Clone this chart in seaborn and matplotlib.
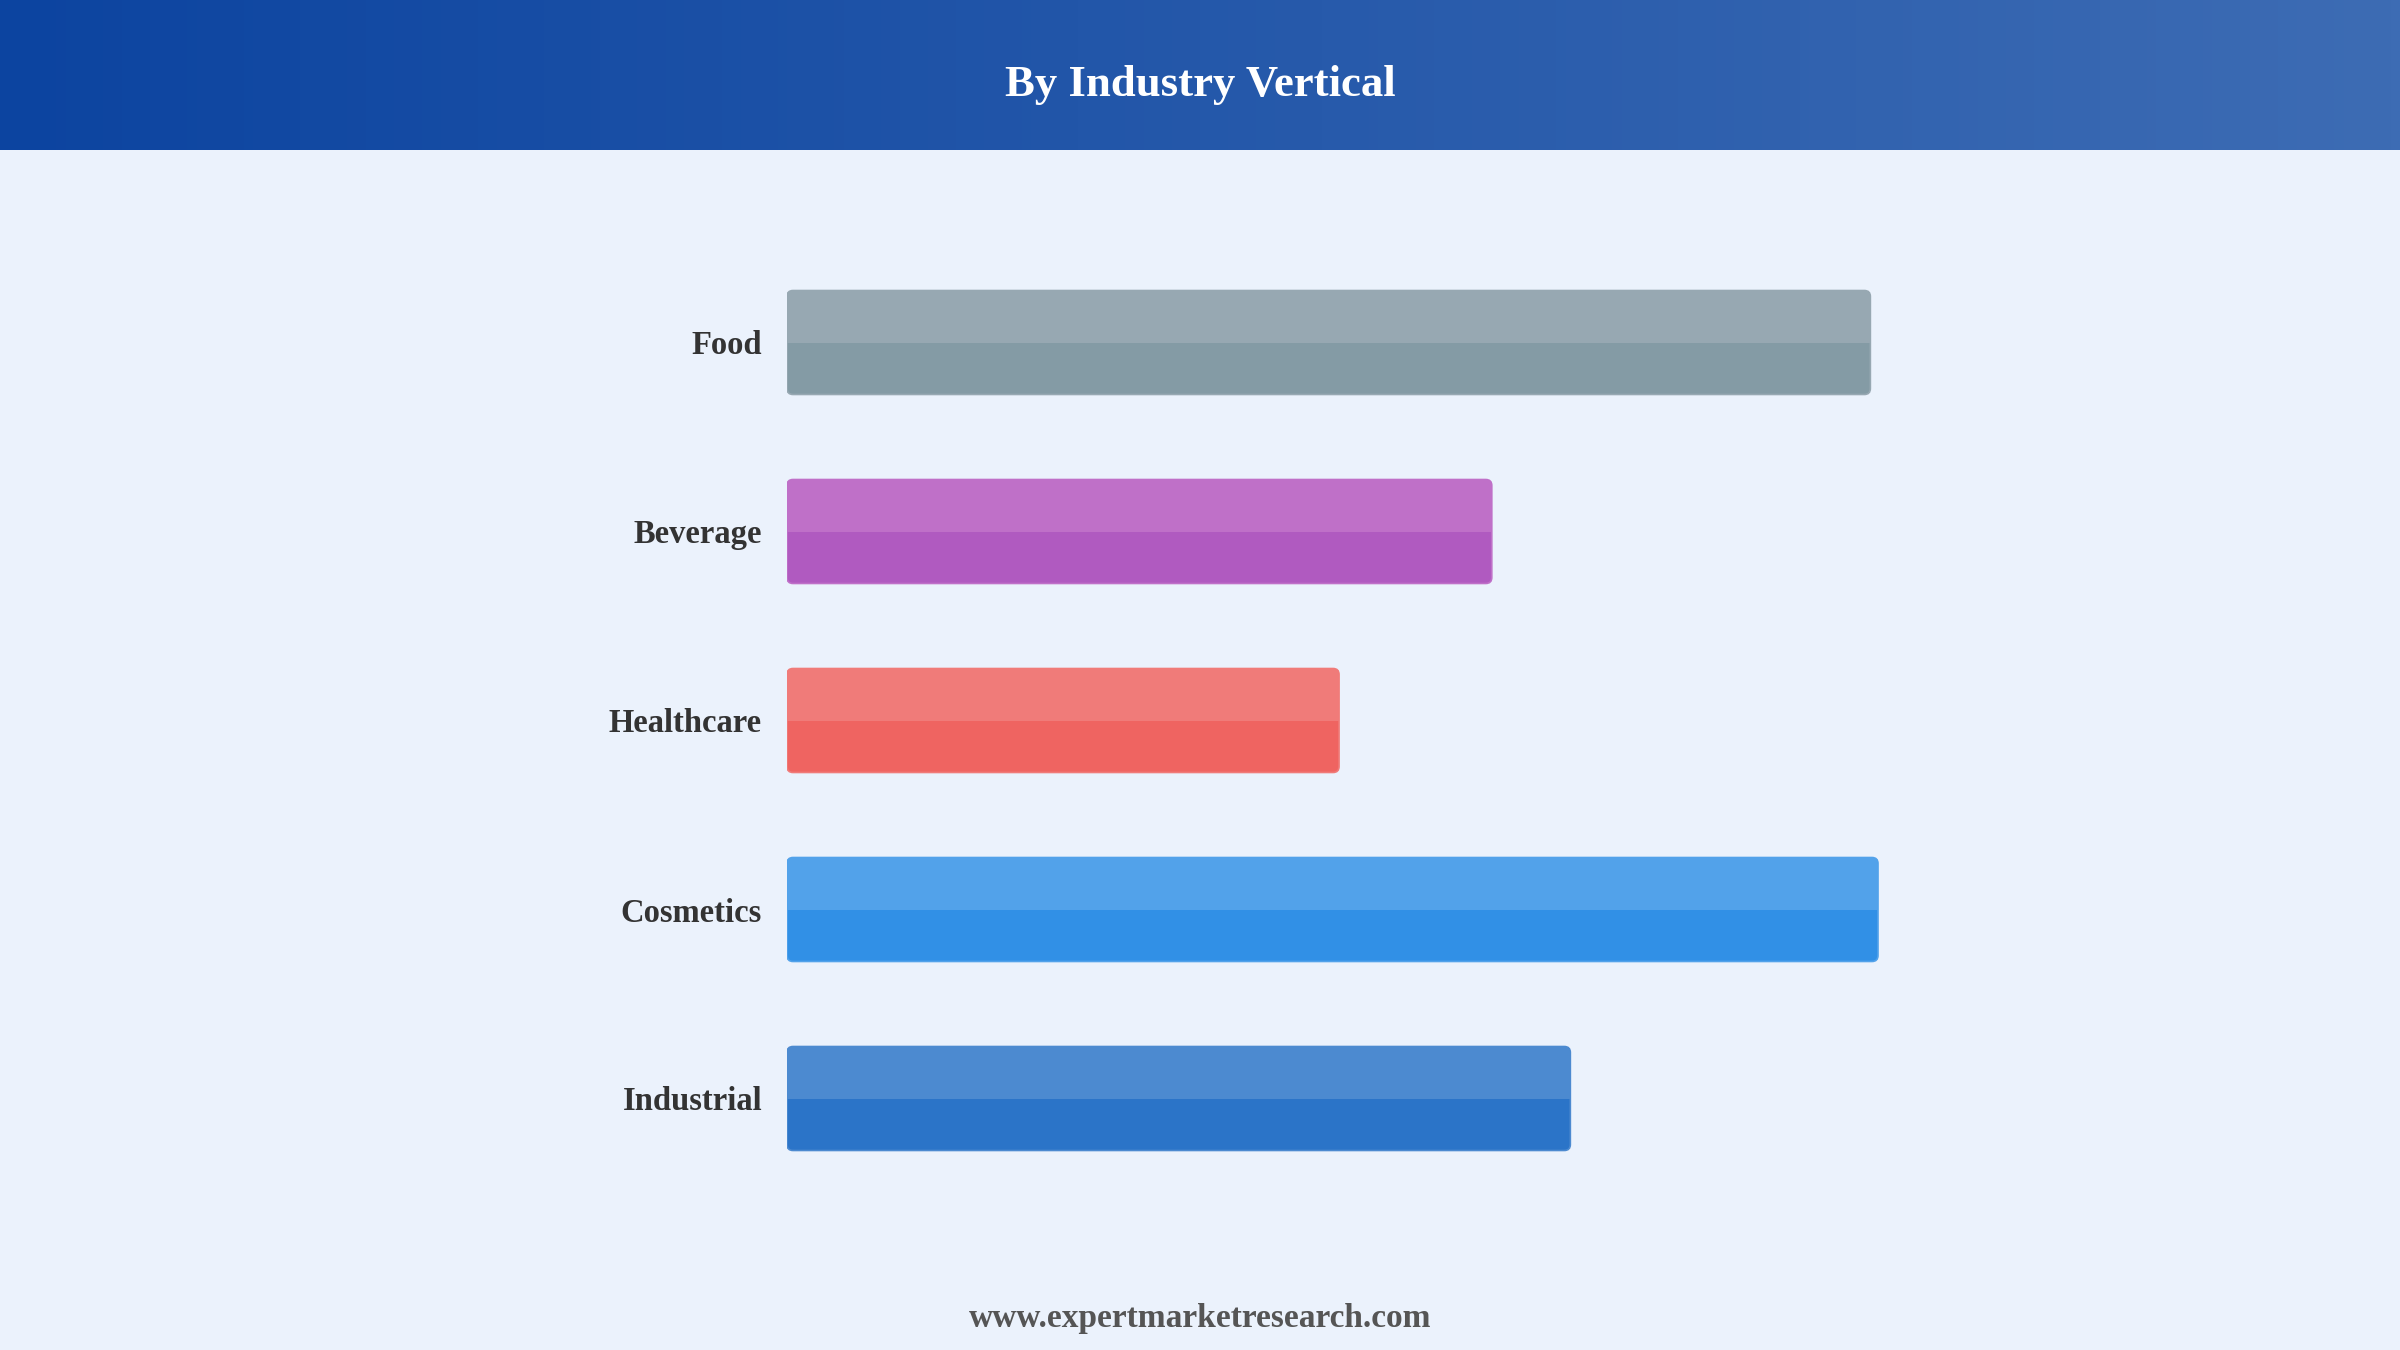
import numpy as np
import pandas as pd
import matplotlib
matplotlib.use('Agg')
import matplotlib.pyplot as plt
from matplotlib.patches import FancyBboxPatch, Rectangle
import seaborn as sns

# data
categories = ['Food', 'Beverage', 'Healthcare', 'Cosmetics', 'Industrial']
values = [99.3, 64.6, 50.6, 100.0, 71.8]
dark_colors = ['#849ba5', '#b05ac0', '#ef6461', '#3190e6', '#2b74c8']
light_colors = ['#97a8b2', '#bf70c8', '#f07b79', '#52a2ea', '#4c8ad0']

df = pd.DataFrame({'category': categories, 'value': values})

bg = '#ebf2fc'
sns.set_theme(style='white')
plt.rcParams['font.family'] = ['Liberation Serif', 'DejaVu Serif']

W, H = 2400, 1350
fig = plt.figure(figsize=(24, 13.5), dpi=100, facecolor=bg)

# header band with gradient
hdr_h = 150
hax = fig.add_axes([0, 1 - hdr_h / H, 1, hdr_h / H])
c0 = np.array(matplotlib.colors.to_rgb('#0c44a0'))
c1 = np.array(matplotlib.colors.to_rgb('#3d6cb4'))
t = np.linspace(0, 1, 256)
grad = (c0[None, :] * (1 - t[:, None]) + c1[None, :] * t[:, None])[None, :, :]
hax.imshow(grad, aspect='auto', extent=[0, 1, 0, 1])
hax.set_axis_off()
fig.text(0.5, 1 - 85 / H, 'By Industry Vertical', ha='center', va='center',
         color='white', fontsize=32.2, fontweight='bold')

# main bars
ax_left, ax_w = 787, 1300
ax_top, ax_bot = 248, 1193
ax = fig.add_axes([ax_left / W, 1 - ax_bot / H, ax_w / W, (ax_bot - ax_top) / H])
ax.set_facecolor(bg)
xmax = 100 * ax_w / 1091
bar_w = 0.55

sns.barplot(data=df, x='value', y='category', hue='category', palette=dark_colors,
            legend=False, width=bar_w, ax=ax)
ax.set_xlim(0, xmax)
ax.set_ylim(4.5, -0.5)

xpp = xmax / ax_w
ypp = 5 / (ax_bot - ax_top)
radius = 6 * xpp

for i, p in enumerate(list(ax.patches)):
    x0, y0 = p.get_x(), p.get_y()
    pw, ph = p.get_width(), p.get_height()
    p.remove()
    rb = FancyBboxPatch((x0, y0), pw, ph,
                        boxstyle=f'round,pad=0,rounding_size={radius}',
                        mutation_aspect=ypp / xpp,
                        facecolor=dark_colors[i], edgecolor=light_colors[i],
                        linewidth=1.2, zorder=2)
    ax.add_patch(rb)
    top = Rectangle((x0, y0), pw, ph / 2, facecolor=light_colors[i],
                    edgecolor='none', zorder=3)
    ax.add_patch(top)
    top.set_clip_path(rb)

ax.set_xlabel('')
ax.set_ylabel('')
ax.set_xticks([])
ax.tick_params(axis='y', length=0, pad=18)
for lbl in ax.get_yticklabels():
    lbl.set_fontsize(23.5)
    lbl.set_fontweight('bold')
    lbl.set_color('#333333')
for s in ax.spines.values():
    s.set_visible(False)

fig.text(0.5, 1 - 1318 / H, 'www.expertmarketresearch.com', ha='center', va='center',
         color='#555555', fontsize=24, fontweight='bold')

fig.savefig('out.png', dpi=100, facecolor=bg)
